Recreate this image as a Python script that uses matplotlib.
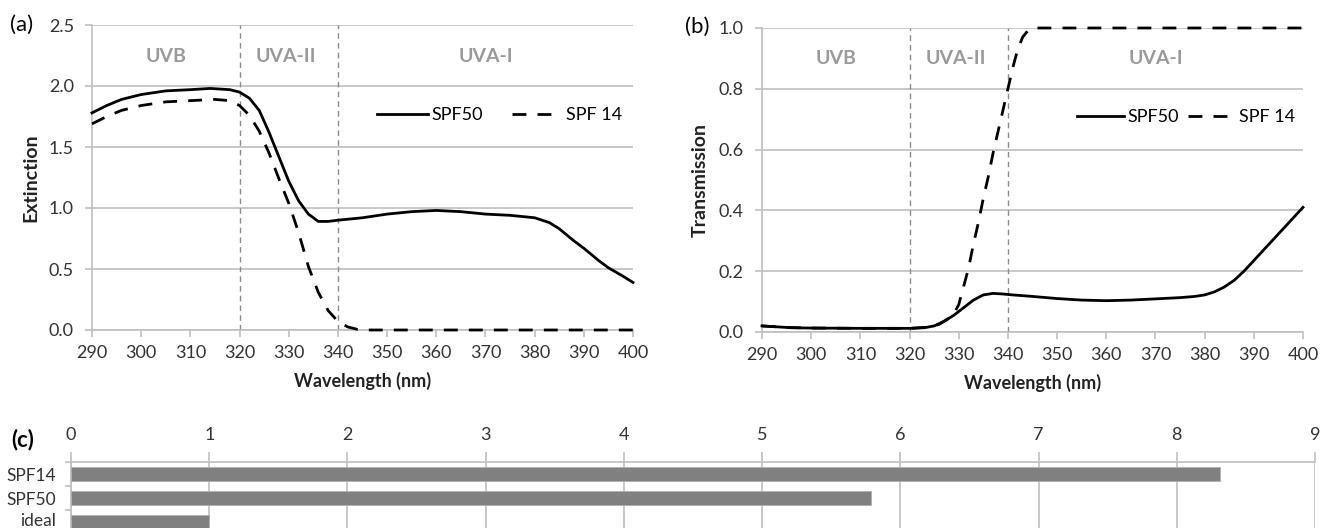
import numpy as np
import matplotlib
matplotlib.use('Agg')
import matplotlib.pyplot as plt
import matplotlib.transforms as mtransforms

plt.rcParams.update({'font.family': ['Lato', 'DejaVu Sans'], 'font.size': 13})
GRID = '#bfbfbf'
TXT = '#333333'
BAND = '#9a9a9a'
FS = 13

# (a) extinction
wl_a50 = [290, 293, 296, 300, 305, 310, 314, 318, 320, 322, 324, 326, 328, 330, 332, 334, 336, 338,
          340, 345, 350, 355, 360, 365, 370, 375, 380, 383, 385, 388, 390, 393, 395, 398, 400]
ext_spf50 = [1.78, 1.84, 1.89, 1.93, 1.96, 1.97, 1.98, 1.97, 1.95, 1.90, 1.80, 1.62, 1.42, 1.22, 1.06, 0.95,
             0.89, 0.89, 0.90, 0.92, 0.95, 0.97, 0.98, 0.97, 0.95, 0.94, 0.92, 0.88, 0.83, 0.73, 0.67,
             0.57, 0.51, 0.44, 0.39]
wl_a14 = [290, 293, 296, 300, 305, 310, 315, 318, 320, 322, 324, 326, 328, 330, 332, 334, 336, 338,
          340, 342, 344, 346, 360, 380, 400]
ext_spf14 = [1.69, 1.75, 1.80, 1.84, 1.87, 1.88, 1.89, 1.88, 1.84, 1.76, 1.63, 1.45, 1.24, 1.04, 0.80,
             0.52, 0.31, 0.16, 0.07, 0.025, 0.005, 0.0, 0.0, 0.0, 0.0]

# (b) transmission
wl_b50 = [290, 293, 296, 300, 310, 320, 323, 325, 327, 329, 331, 333, 335, 337, 339, 341, 345, 350,
          355, 360, 365, 370, 375, 378, 380, 382, 384, 386, 388, 390, 392, 394, 396, 398, 400]
tr_spf50 = [0.02, 0.017, 0.014, 0.013, 0.012, 0.012, 0.014, 0.02, 0.035, 0.055, 0.08, 0.105, 0.122,
            0.127, 0.125, 0.122, 0.117, 0.11, 0.105, 0.103, 0.105, 0.109, 0.113, 0.117, 0.122, 0.132,
            0.148, 0.17, 0.2, 0.235, 0.27, 0.305, 0.34, 0.375, 0.41]
wl_b14 = [290, 295, 300, 310, 320, 324, 326, 328, 329, 330, 331, 332, 333, 334, 335, 336, 337, 338,
          339, 340, 341, 342, 343, 344, 345, 350, 400]
tr_spf14 = [0.02, 0.015, 0.013, 0.012, 0.012, 0.016, 0.025, 0.045, 0.06, 0.09, 0.15, 0.21, 0.29, 0.36,
            0.44, 0.51, 0.59, 0.66, 0.73, 0.80, 0.87, 0.93, 0.97, 0.99, 1.0, 1.0, 1.0]

# (c) bars
bar_labels = ['SPF14', 'SPF50', 'ideal']
bar_values = [8.31, 5.79, 1.0]

bands = [('UVB', 305), ('UVA-II', 329.5), ('UVA-I', 370)]
band_edges = [320, 340]

fig = plt.figure(figsize=(13.2, 5.28), dpi=100)
ax_a = fig.add_axes([92/1320, 1-330/528, 541/1320, 305/528])
ax_b = fig.add_axes([762/1320, 1-332/528, 541/1320, 304/528])
ax_c = fig.add_axes([71/1320, 1-534/528, 1244/1320, 72/528])


def style_line_axes(ax, ymax, ystep, ylabel):
    ax.set_xlim(290, 400)
    ax.set_ylim(0, ymax)
    ax.set_xticks(np.arange(290, 401, 10))
    ax.set_yticks(np.arange(0, ymax + 1e-9, ystep))
    ax.yaxis.set_major_formatter(matplotlib.ticker.FormatStrFormatter('%.1f'))
    ax.grid(axis='y', color=GRID, lw=1.2)
    ax.set_axisbelow(True)
    for s in ['top', 'right']:
        ax.spines[s].set_visible(False)
    for s in ['left', 'bottom']:
        ax.spines[s].set_color(GRID)
        ax.spines[s].set_linewidth(1.2)
    ax.tick_params(axis='both', colors=GRID, labelcolor=TXT, length=5, width=1.2, labelsize=FS)
    ax.tick_params(axis='y', pad=8)
    ax.tick_params(axis='x', pad=6)
    ax.set_xlabel('Wavelength (nm)', fontweight='bold', fontsize=FS, labelpad=8, color='#222222')
    ax.set_ylabel(ylabel, fontweight='bold', fontsize=14, labelpad=7, color='#222222')
    for x in band_edges:
        ax.axvline(x, color='#8c8c8c', lw=1.0, ls=(0, (4, 3)), zorder=1)


style_line_axes(ax_a, 2.5, 0.5, 'Extinction')
ax_a.plot(wl_a50, ext_spf50, color='black', lw=2.0, label='SPF50', clip_on=False, zorder=3)
ax_a.plot(wl_a14, ext_spf14, color='black', lw=2.0, ls=(0, (5, 4)), label='SPF 14', clip_on=False, zorder=3)
for name, x in bands:
    ax_a.text(x, 2.24, name, ha='center', va='center', color=BAND, fontweight='bold', fontsize=14)
ax_a.legend(loc='center right', bbox_to_anchor=(397.8, 1.76), bbox_transform=ax_a.transData,
            ncol=2, frameon=False, handlelength=2.8, handletextpad=0.2, columnspacing=1.6,
            fontsize=FS, borderaxespad=0, borderpad=0)

style_line_axes(ax_b, 1.0, 0.2, 'Transmission')
ax_b.plot(wl_b50, tr_spf50, color='black', lw=2.0, label='SPF50', clip_on=False, zorder=3)
ax_b.plot(wl_b14, tr_spf14, color='black', lw=2.0, ls=(0, (5, 4)), label='SPF 14', clip_on=False, zorder=3)
for name, x in bands:
    ax_b.text(x, 0.9, name, ha='center', va='center', color=BAND, fontweight='bold', fontsize=14)
ax_b.legend(loc='center right', bbox_to_anchor=(398.3, 0.707), bbox_transform=ax_b.transData,
            ncol=2, frameon=False, handlelength=2.6, handletextpad=0.2, columnspacing=0.5,
            fontsize=FS, borderaxespad=0, borderpad=0)

# (c) horizontal bars
ypos = np.arange(len(bar_labels))
ax_c.barh(ypos, bar_values, height=0.55, color='#808080', edgecolor='#b0b0b0', linewidth=0.6, zorder=3)
ax_c.set_xlim(0, 9)
ax_c.set_ylim(2.5, -0.5)
ax_c.xaxis.tick_top()
ax_c.set_xticks(np.arange(0, 10, 1))
ax_c.set_yticks(ypos)
ax_c.set_yticklabels(bar_labels)
ax_c.set_yticks(np.arange(-0.5, 2.6, 1), minor=True)
ax_c.grid(axis='x', color=GRID, lw=1.2)
ax_c.set_axisbelow(True)
for s in ['bottom', 'right']:
    ax_c.spines[s].set_visible(False)
for s in ['top', 'left']:
    ax_c.spines[s].set_color(GRID)
    ax_c.spines[s].set_linewidth(1.2)
ax_c.tick_params(axis='x', colors=GRID, labelcolor=TXT, length=7, width=1.2, labelsize=FS, pad=7)
ax_c.tick_params(axis='y', which='major', length=0, labelcolor=TXT, labelsize=12.5, pad=11)
ax_c.tick_params(axis='y', which='minor', colors=GRID, length=4, width=1.2)
# last category sits at the cut-off bottom edge; lift its label a couple of pixels
last = ax_c.get_yticklabels()[-1]
last.set_transform(last.get_transform() + mtransforms.ScaledTranslation(0, 3/100, fig.dpi_scale_trans))

fig.text(10/1320, 1-25/528, '(a)', fontsize=16, va='center', ha='left')
fig.text(685/1320, 1-27/528, '(b)', fontsize=16, va='center', ha='left')
fig.text(11/1320, 1-440/528, '(c)', fontsize=16, va='center', ha='left', fontweight='bold')

fig.savefig('out.png', dpi=100)
